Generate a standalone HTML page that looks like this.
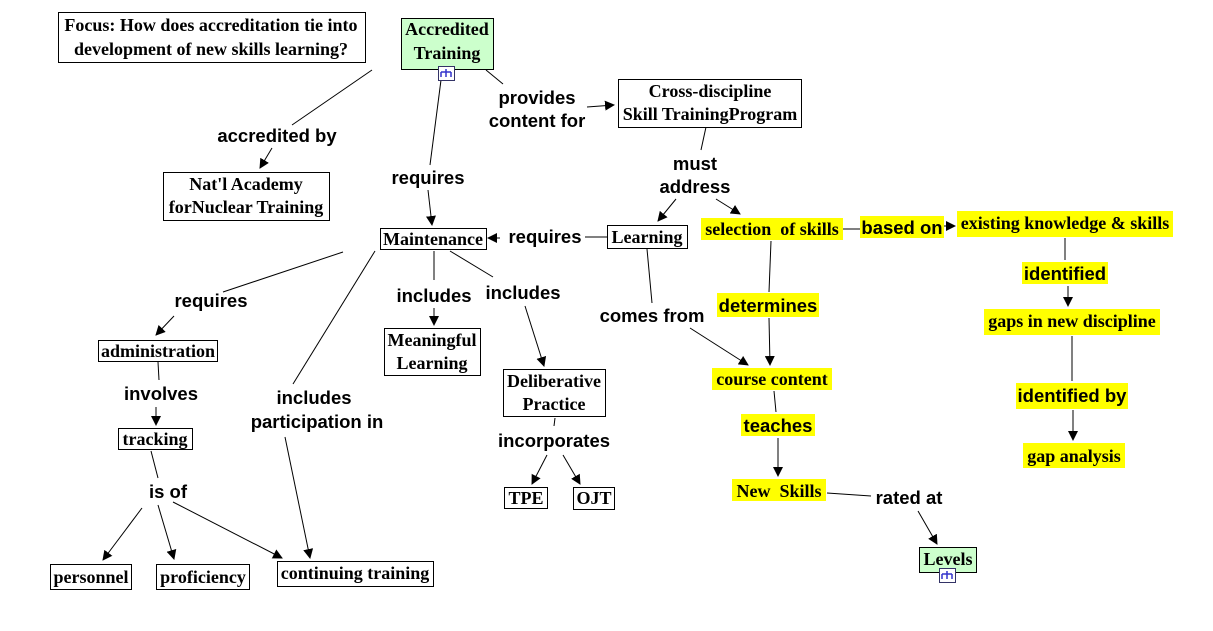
<!DOCTYPE html>
<html><head><meta charset="utf-8"><style>
html,body{margin:0;padding:0;background:#fff;}
svg{display:block;}
text{white-space:pre;}
.n{font-family:"Liberation Serif",serif;font-weight:bold;font-size:18px;fill:#000;}
.l{font-family:"Liberation Sans",sans-serif;font-weight:bold;font-size:18.5px;fill:#000;}
line{stroke:#000;stroke-width:1;}
.b{fill:#fff;stroke:#000;stroke-width:1;}
.g{fill:#ccffcc;stroke:#000;stroke-width:1;}
.y{fill:#ffff00;stroke:none;}
.ic{fill:#fff;stroke:#336;stroke-width:1;}
.ic2{stroke:#33c;stroke-width:1.5;fill:none;}
</style></head><body>
<svg width="1213" height="631" viewBox="0 0 1213 631" xmlns="http://www.w3.org/2000/svg">
<defs><marker id="a" markerWidth="10" markerHeight="10" refX="9" refY="5" orient="auto" markerUnits="userSpaceOnUse"><path d="M0,0 L10,5 L0,10 z" fill="#000"/></marker></defs>
<g text-anchor="middle">
<!-- lines -->
<line x1="372" y1="70" x2="292" y2="125"/>
<line x1="272" y1="148" x2="260" y2="168" marker-end="url(#a)"/>
<line x1="441" y1="80" x2="430" y2="165"/>
<line x1="428" y1="190" x2="432" y2="225" marker-end="url(#a)"/>
<line x1="486" y1="70" x2="503" y2="84"/>
<line x1="587" y1="107" x2="614" y2="105" marker-end="url(#a)"/>
<line x1="706" y1="127" x2="701" y2="150"/>
<line x1="676" y1="199" x2="658" y2="221" marker-end="url(#a)"/>
<line x1="716" y1="199" x2="740" y2="214" marker-end="url(#a)"/>
<line x1="607" y1="237" x2="585" y2="237"/>
<line x1="500" y1="238" x2="488" y2="238" marker-end="url(#a)"/>
<line x1="843" y1="229" x2="860" y2="229"/>
<line x1="944" y1="226" x2="955" y2="226" marker-end="url(#a)"/>
<line x1="1065" y1="238" x2="1065" y2="260"/>
<line x1="1068" y1="286" x2="1068" y2="306" marker-end="url(#a)"/>
<line x1="1072" y1="336" x2="1072" y2="381"/>
<line x1="1073" y1="410" x2="1073" y2="440" marker-end="url(#a)"/>
<line x1="771" y1="241" x2="769" y2="292"/>
<line x1="769" y1="318" x2="770" y2="365" marker-end="url(#a)"/>
<line x1="647" y1="249" x2="652" y2="303"/>
<line x1="690" y1="328" x2="748" y2="365" marker-end="url(#a)"/>
<line x1="774" y1="391" x2="776" y2="412"/>
<line x1="778" y1="438" x2="778" y2="476" marker-end="url(#a)"/>
<line x1="827" y1="493" x2="871" y2="496"/>
<line x1="918" y1="511" x2="937" y2="544" marker-end="url(#a)"/>
<line x1="343" y1="252" x2="223" y2="292"/>
<line x1="174" y1="316" x2="156" y2="335" marker-end="url(#a)"/>
<line x1="434" y1="251" x2="434" y2="280"/>
<line x1="434" y1="308" x2="434" y2="325" marker-end="url(#a)"/>
<line x1="450" y1="251" x2="493" y2="277"/>
<line x1="525" y1="306" x2="544" y2="366" marker-end="url(#a)"/>
<line x1="375" y1="251" x2="293" y2="384"/>
<line x1="285" y1="437" x2="310" y2="558" marker-end="url(#a)"/>
<line x1="158" y1="362" x2="159" y2="380"/>
<line x1="156" y1="407" x2="156" y2="425" marker-end="url(#a)"/>
<line x1="151" y1="451" x2="158" y2="478"/>
<line x1="142" y1="508" x2="103" y2="560" marker-end="url(#a)"/>
<line x1="158" y1="505" x2="174" y2="559" marker-end="url(#a)"/>
<line x1="173" y1="502" x2="282" y2="558" marker-end="url(#a)"/>
<line x1="555" y1="418" x2="554" y2="426"/>
<line x1="547" y1="455" x2="532" y2="484" marker-end="url(#a)"/>
<line x1="563" y1="455" x2="580" y2="484" marker-end="url(#a)"/>

<!-- nodes -->
<rect class="b" x="58.5" y="12.5" width="307" height="50"/>
<text class="n" x="211" y="31">Focus: How does accreditation tie into</text>
<text class="n" x="211" y="55">development of new skills learning?</text>

<rect class="g" x="401.5" y="18.5" width="92" height="51"/>
<text class="n" x="447" y="35">Accredited</text>
<text class="n" x="447" y="59">Training</text>
<rect class="ic" x="438.5" y="66.5" width="16" height="14"/>
<path class="ic2" d="M446,69 v3 M441,72 h10 M441,72 v5 M451,72 v5 M446,72 v5"/>

<rect class="b" x="618.5" y="79.5" width="183" height="48"/>
<text class="n" x="710" y="97">Cross-discipline</text>
<text class="n" x="710" y="120">Skill TrainingProgram</text>

<rect class="b" x="163.5" y="172.5" width="166" height="48"/>
<text class="n" x="246" y="190">Nat'l Academy</text>
<text class="n" x="246" y="213">forNuclear Training</text>

<rect class="b" x="380.5" y="228.5" width="106" height="21"/>
<text class="n" x="433" y="245">Maintenance</text>
<rect class="b" x="607.5" y="225.5" width="80" height="23"/>
<text class="n" x="647" y="243">Learning</text>

<rect class="y" x="701" y="218" width="142" height="22"/>
<text class="n" x="772" y="235">selection  of skills</text>
<rect class="y" x="860" y="216" width="84" height="22"/>
<text class="l" x="902" y="234">based on</text>
<rect class="y" x="957" y="211" width="216" height="26"/>
<text class="n" x="1065" y="229">existing knowledge &amp; skills</text>
<rect class="y" x="1022" y="262" width="86" height="22"/>
<text class="l" x="1065" y="280">identified</text>
<rect class="y" x="984" y="309" width="176" height="26"/>
<text class="n" x="1072" y="327">gaps in new discipline</text>
<rect class="y" x="1016" y="383" width="112" height="26"/>
<text class="l" x="1072" y="402">identified by</text>
<rect class="y" x="1023" y="443" width="102" height="25"/>
<text class="n" x="1074" y="462">gap analysis</text>
<rect class="y" x="717" y="293" width="102" height="24"/>
<text class="l" x="768" y="312">determines</text>
<rect class="y" x="712" y="368" width="120" height="22"/>
<text class="n" x="772" y="385">course content</text>
<rect class="y" x="741" y="414" width="74" height="22"/>
<text class="l" x="778" y="432">teaches</text>
<rect class="y" x="732" y="479" width="94" height="22"/>
<text class="n" x="779" y="497">New  Skills</text>
<text class="l" x="909" y="504">rated at</text>

<rect class="g" x="919.5" y="547.5" width="57" height="25"/>
<text class="n" x="948" y="565">Levels</text>
<rect class="ic" x="939.5" y="568.5" width="16" height="14"/>
<path class="ic2" d="M947,571 v3 M942,574 h10 M942,574 v5 M952,574 v5 M947,574 v5"/>

<rect class="b" x="98.5" y="340.5" width="119" height="21"/>
<text class="n" x="158" y="357">administration</text>
<rect class="b" x="384.5" y="328.5" width="96" height="47"/>
<text class="n" x="432" y="346">Meaningful</text>
<text class="n" x="432" y="369">Learning</text>
<rect class="b" x="503.5" y="369.5" width="102" height="47"/>
<text class="n" x="554" y="387">Deliberative</text>
<text class="n" x="554" y="410">Practice</text>
<rect class="b" x="118.5" y="428.5" width="74" height="21"/>
<text class="n" x="155" y="445">tracking</text>
<rect class="b" x="504.5" y="487.5" width="43" height="21"/>
<text class="n" x="526" y="504">TPE</text>
<rect class="b" x="573.5" y="487.5" width="41" height="22"/>
<text class="n" x="594" y="504">OJT</text>
<rect class="b" x="50.5" y="564.5" width="81" height="25"/>
<text class="n" x="91" y="583">personnel</text>
<rect class="b" x="156.5" y="564.5" width="93" height="25"/>
<text class="n" x="203" y="583">proficiency</text>
<rect class="b" x="277.5" y="561.5" width="156" height="25"/>
<text class="n" x="355" y="579">continuing training</text>

<!-- labels -->
<text class="l" x="277" y="142">accredited by</text>
<text class="l" x="428" y="184">requires</text>
<text class="l" x="537" y="104">provides</text>
<text class="l" x="537" y="127">content for</text>
<text class="l" x="695" y="170">must</text>
<text class="l" x="695" y="193">address</text>
<text class="l" x="545" y="243">requires</text>
<text class="l" x="211" y="307">requires</text>
<text class="l" x="434" y="302">includes</text>
<text class="l" x="523" y="299">includes</text>
<text class="l" x="652" y="322">comes from</text>
<text class="l" x="314" y="404">includes</text>
<text class="l" x="317" y="428">participation in</text>
<text class="l" x="161" y="400">involves</text>
<text class="l" x="168" y="498">is of</text>
<text class="l" x="554" y="447">incorporates</text>
</g>
</svg>
</body></html>
